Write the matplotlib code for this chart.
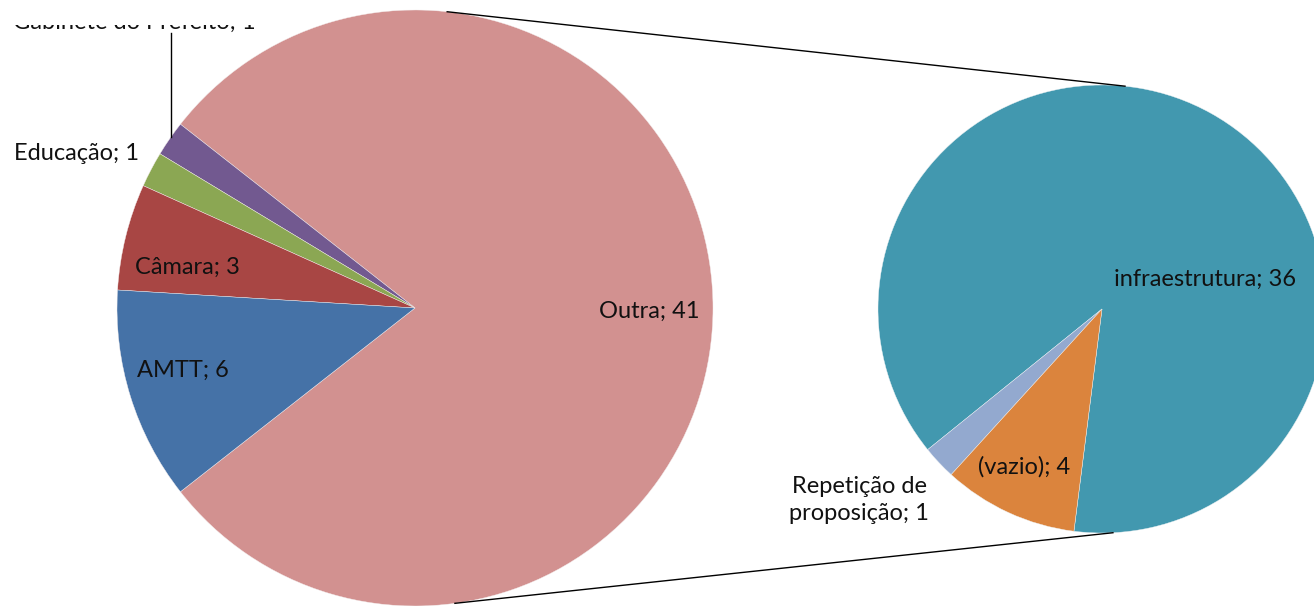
import numpy as np
import matplotlib
matplotlib.use("Agg")
import matplotlib.pyplot as plt
from matplotlib.patches import Rectangle

# ---------------- data ----------------
main_labels = ["Outra", "Gabinete do Prefeito", "Educação", "Câmara", "AMTT"]
main_values = [41, 1, 1, 3, 6]
main_colors = ["#D29190", "#725990", "#8BA753", "#A84644", "#4572A7"]

sub_labels = ["infraestrutura", "Repetição de\nproposição", "(vazio)"]
sub_values = [36, 1, 4]
sub_colors = ["#4298AF", "#93A9CF", "#DB843D"]

W, H = 1314, 606
plt.rcParams['font.family'] = ['Lato', 'DejaVu Sans']

fig = plt.figure(figsize=(W / 100, H / 100), dpi=100)
ax = fig.add_axes([0, 0, 1, 1])

# geometry (pixel space, y up)
main_c = (415, H - 308)
main_r = 298
sub_c = (1102, H - 309)
sub_r = 224

total_main = sum(main_values)
start_main = -main_values[0] / total_main * 180.0
ax.pie(main_values, colors=main_colors, startangle=start_main, counterclock=True,
       center=main_c, radius=main_r, frame=True,
       wedgeprops=dict(edgecolor='#f4eeee', linewidth=0.3))

sub_start = -97.2
ax.pie(sub_values, colors=sub_colors, startangle=sub_start, counterclock=True,
       center=sub_c, radius=sub_r, frame=True,
       wedgeprops=dict(edgecolor='#eef2f4', linewidth=0.3))
ax.set_xlim(0, W)
ax.set_ylim(0, H)
ax.set_aspect('equal')
ax.axis('off')

# connector lines between the pies
def pt(c, r, deg):
    a = np.deg2rad(deg)
    return c[0] + r * np.cos(a), c[1] + r * np.sin(a)

for a_main, a_sub in [(83.8, 84.1), (-82.3, -87.2)]:
    p1 = pt(main_c, main_r, a_main)
    p2 = pt(sub_c, sub_r, a_sub)
    ax.plot([p1[0], p2[0]], [p1[1], p2[1]], color='black', lw=1.0, zorder=5)

fs = 17
tk = dict(fontsize=fs, color='#111111', ha='center', va='center', zorder=6)

def lab(text, x, y, **kw):
    d = dict(tk)
    d.update(kw)
    ax.text(x, H - y, text, **d)

lab(f"{main_labels[0]}; {main_values[0]}", 649, 311)
lab(f"{main_labels[4]}; {main_values[4]}", 183, 370)
lab(f"{main_labels[3]}; {main_values[3]}", 187, 267)
lab(f"{main_labels[2]}; {main_values[2]}", 77, 153)
lab(f"{main_labels[1]}; {main_values[1]}", 134, 22)

lab(f"{sub_labels[0]}; {sub_values[0]}", 1205, 279)
lab(f"{sub_labels[2]}; {sub_values[2]}", 1024, 467)
lab(f"{sub_labels[1]}; {sub_values[1]}", 859, 500, linespacing=1.3)

# leader line for the top label
tip = pt(main_c, main_r, 145.0)
ax.plot([tip[0], tip[0]], [tip[1], H - 33], color='black', lw=1.0, zorder=5)

# white overlay at top-left that hides the upper part of the cut-off label
ax.add_patch(Rectangle((0, H - 25), 300, 25, facecolor='white', edgecolor='none', zorder=7))

fig.savefig("out.png", dpi=100)
